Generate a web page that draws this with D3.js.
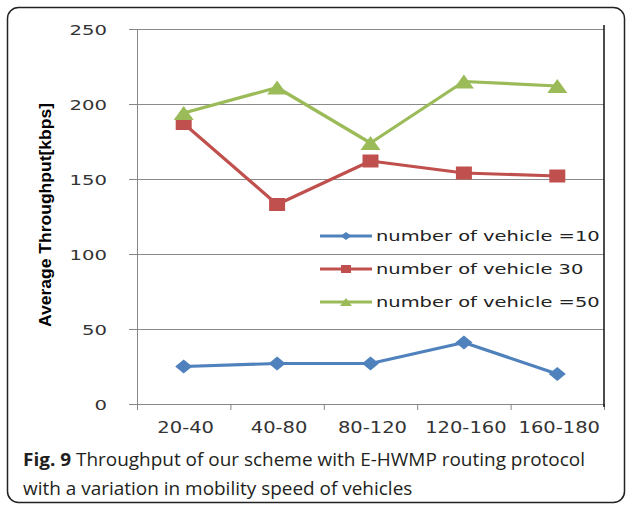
<!DOCTYPE html>
<html>
<head>
<meta charset="utf-8">
<script src="https://cdn.jsdelivr.net/npm/d3@7"></script>
<style>
  body { margin: 0; background: #fff; }
</style>
</head>
<body>
<div id="chart"></div>
<script>
(function(window){
	'use strict';

	var categories = ['20-40', '40-80', '80-120', '120-160', '160-180'];
	var seriesNames = ['number of vehicle =10', 'number of vehicle 30', 'number of vehicle =50'];
	var vehicle10 = [25, 27, 27, 41, 20];
	var vehicle30 = [187, 133, 162, 154, 152];
	var vehicle50 = [194, 211, 174, 215, 212];
	var yTicks = [0, 50, 100, 150, 200, 250];

	var colors = ['#4f81bd', '#c0504d', '#9bbb59'];
	var shapes = ['diamond', 'square', 'triangle'];

	var W = 627, H = 505;
	var left = 137, right = 604, top = 29, bottom = 404;

	var svg = d3.select('#chart').append('svg').attr('width', W).attr('height', H);

	// the picture was squeezed wider than it was drawn, so text gets stretched along x
	function stretch(sel, sx) {
		sel.each(function() {
			var len = this.getComputedTextLength();
			d3.select(this).attr('textLength', len * sx).attr('lengthAdjust', 'spacingAndGlyphs');
		});
	}

	function markerPath(shape, w, h) {
		var a = w / 2, b = h / 2;
		if (shape === 'square') return 'M' + (-a) + ',' + (-b) + 'H' + a + 'V' + b + 'H' + (-a) + 'Z';
		if (shape === 'triangle') return 'M0,' + (-b) + 'L' + a + ',' + b + 'L' + (-a) + ',' + b + 'Z';
		return 'M0,' + (-b) + 'L' + a + ',0L0,' + b + 'L' + (-a) + ',0Z';
	}
	var bigSize = { square: [16, 13], triangle: [20, 14], diamond: [17, 14] };
	var smallSize = { square: [10, 8], triangle: [12, 8], diamond: [11, 8] };

	svg.append('rect').attr('x', 7.5).attr('y', 7.5).attr('width', 617).attr('height', 495)
		.attr('rx', 11).attr('fill', '#fff').attr('stroke', '#222').attr('stroke-width', 1.5);

	var x = d3.scaleBand().domain(categories).range([left, right]);
	var xEdge = d3.scaleLinear().domain([0, categories.length]).range([left, right]);
	var y = d3.scaleLinear().domain([0, 250]).range([bottom, top]);

	// gridlines
	svg.append('g').attr('transform', 'translate(' + left + ',0)')
		.call(d3.axisLeft(y).tickValues(yTicks.slice(1)).tickSize(-(right - left)).tickFormat(''))
		.call(function(g) {
			g.select('.domain').remove();
			g.selectAll('line').attr('stroke', '#8a8a8a').attr('stroke-width', 1);
		});

	// y axis
	var gy = svg.append('g').attr('transform', 'translate(' + left + ',0)')
		.call(d3.axisLeft(y).tickValues(yTicks).tickSize(8).tickPadding(22).tickSizeOuter(0));
	gy.select('.domain').attr('stroke', '#868686');
	gy.selectAll('line').attr('stroke', '#868686');
	gy.selectAll('text').attr('font-family', 'DejaVu Sans').attr('font-size', 14)
		.attr('fill', '#333').attr('dy', '0.36em');
	stretch(gy.selectAll('text'), 1.4);

	// x axis: ticks on category edges, labels at centres
	var gx = svg.append('g').attr('transform', 'translate(0,' + bottom + ')')
		.call(d3.axisBottom(xEdge).ticks(categories.length).tickSize(6).tickFormat('').tickSizeOuter(0));
	gx.select('.domain').attr('stroke', '#868686');
	gx.selectAll('line').attr('stroke', '#868686');

	var xl = svg.append('g').selectAll('text').data(categories).enter().append('text')
		.attr('x', function(d) { return x(d) + x.bandwidth() / 2 + 2; })
		.attr('y', 433)
		.attr('text-anchor', 'middle')
		.attr('font-family', 'DejaVu Sans').attr('font-size', 15).attr('fill', '#333')
		.text(function(d) { return d; });
	stretch(xl, 1.3);

	// right frame line of the plot
	svg.append('line').attr('x1', right).attr('x2', right).attr('y1', 25).attr('y2', 407)
		.attr('stroke', '#111').attr('stroke-width', 1.5);

	// y title
	svg.append('text')
		.attr('transform', 'translate(51,215) rotate(-90)')
		.attr('text-anchor', 'middle')
		.attr('font-family', 'Liberation Sans').attr('font-weight', 'bold').attr('font-size', 16)
		.attr('fill', '#000')
		.attr('textLength', 224).attr('lengthAdjust', 'spacingAndGlyphs')
		.text('Average Throughput[kbps]');

	var series = [vehicle10, vehicle30, vehicle50];
	var line = d3.line()
		.x(function(d, i) { return x(categories[i]) + x.bandwidth() / 2; })
		.y(function(d) { return y(d); });

	series.forEach(function(vals, s) {
		var g = svg.append('g');
		g.append('path').datum(vals).attr('d', line)
			.attr('fill', 'none').attr('stroke', colors[s]).attr('stroke-width', 3.2)
			.attr('stroke-linejoin', 'round');
		var sz = bigSize[shapes[s]];
		g.selectAll('path.m').data(vals).enter().append('path').attr('class', 'm')
			.attr('transform', function(d, i) {
				return 'translate(' + (x(categories[i]) + x.bandwidth() / 2) + ',' + y(d) + ')';
			})
			.attr('d', markerPath(shapes[s], sz[0], sz[1]))
			.attr('fill', colors[s]);
	});

	// legend
	var legY = [236, 269, 302];
	var lg = svg.append('g');
	seriesNames.forEach(function(name, s) {
		var ly = legY[s];
		lg.append('line').attr('x1', 320).attr('x2', 372).attr('y1', ly).attr('y2', ly)
			.attr('stroke', colors[s]).attr('stroke-width', 3);
		var sz = smallSize[shapes[s]];
		lg.append('path').attr('transform', 'translate(346,' + ly + ')')
			.attr('d', markerPath(shapes[s], sz[0], sz[1])).attr('fill', colors[s]);
		var t = lg.append('text').attr('x', 376).attr('y', ly + 5)
			.attr('font-family', 'DejaVu Sans').attr('font-size', 14).attr('fill', '#222')
			.text(name);
		stretch(t, 1.39);
	});

	// caption, widened to the printed line length
	var cap = svg.append('g').attr('font-family', 'Open Sans').attr('font-size', 18).attr('fill', '#231f20');
	var c1 = cap.append('text').attr('x', 23).attr('y', 466);
	c1.append('tspan').attr('font-weight', 'bold').text('Fig. 9');
	c1.append('tspan').text(' Throughput of our scheme with E-HWMP routing protocol');
	var c2 = cap.append('text').attr('x', 23).attr('y', 495).text('with a variation in mobility speed of vehicles');
	var capScale = 562 / c1.node().getComputedTextLength();
	stretch(c1, capScale);
	stretch(c2, capScale);

})(window);
</script>
</body>
</html>
